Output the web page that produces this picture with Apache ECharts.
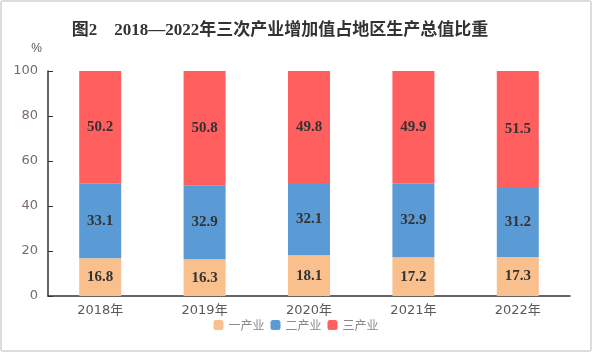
<!DOCTYPE html>
<html><head><meta charset="utf-8">
<script src="https://cdn.jsdelivr.net/npm/echarts@6/dist/echarts.min.js"></script>
<style>html,body{margin:0;padding:0;background:#fff}#c{width:588px;height:348px;border:2px solid #dcdcdc;border-radius:3px}</style>
</head><body><div id="c"></div>
<script>
const categories = ['2018年','2019年','2020年','2021年','2022年'];
const primary = [16.8,16.3,18.1,17.2,17.3];
const secondary = [33.1,32.9,32.1,32.9,31.2];
const tertiary = [50.2,50.8,49.8,49.9,51.5];
const seriesNames = ['一产业','二产业','三产业'];
const yTicks = {min:0,max:100,interval:20};
const colors = ['#F9C08E','#5B9BD5','#FF5F5F'];
const chart = echarts.init(document.getElementById('c'));
const lbl = {show:true,position:'inside',fontFamily:'Liberation Serif',fontWeight:'bold',fontSize:15,color:'#333'};
chart.setOption({
  animation:false,
  title:{text:'图2　2018—2022年三次产业增加值占地区生产总值比重',left:273,textAlign:'center',top:15,
    textStyle:{fontFamily:'Liberation Serif, Noto Sans CJK SC',fontWeight:'bold',fontSize:17,color:'#333'}},
  grid:{left:46,right:20,top:69,bottom:54},
  legend:{bottom:14,left:'center',itemWidth:10,itemHeight:10,itemGap:6,
    textStyle:{color:'#8a8a8a',fontSize:12,fontFamily:'Noto Sans CJK SC'},data:seriesNames},
  xAxis:{type:'category',data:categories,
    axisLine:{lineStyle:{color:'#333',width:1.5}},
    axisTick:{inside:true,length:4,lineStyle:{color:'#333'}},
    axisLabel:{color:'#595959',fontSize:13,margin:8,fontFamily:'DejaVu Sans, Noto Sans CJK SC'}},
  yAxis:{type:'value',min:yTicks.min,max:yTicks.max,interval:yTicks.interval,name:'%',
    nameGap:16,nameTextStyle:{color:'#595959',fontSize:12,align:'right',padding:[0,6,0,0]},
    splitLine:{show:false},
    axisLine:{show:true,lineStyle:{color:'#333',width:1.5}},
    axisTick:{show:true,inside:true,length:5,lineStyle:{color:'#333'}},
    axisLabel:{color:'#7a6a6a',fontSize:13,margin:10,fontFamily:'DejaVu Sans'}},
  series:[
    {name:seriesNames[0],type:'bar',stack:'a',data:primary,barWidth:42,itemStyle:{color:colors[0]},label:lbl},
    {name:seriesNames[1],type:'bar',stack:'a',data:secondary,barWidth:42,itemStyle:{color:colors[1]},label:lbl},
    {name:seriesNames[2],type:'bar',stack:'a',data:tertiary,barWidth:42,itemStyle:{color:colors[2]},label:lbl}
  ]
});
</script></body></html>
